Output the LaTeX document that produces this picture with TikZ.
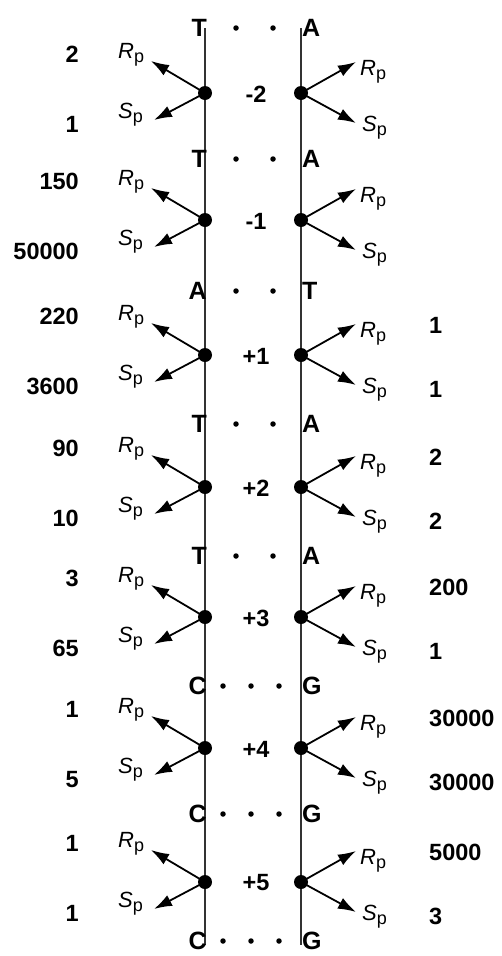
\documentclass[tikz,border=0pt]{standalone}
\usepackage{fontspec}
\setmainfont{Liberation Sans}
\usetikzlibrary{arrows.meta, positioning}

\newcommand{\rateR}{\textit{R}\raisebox{-4.5pt}{\fontsize{18}{18}\selectfont p}}
\newcommand{\rateS}{\textit{S}\raisebox{-4.5pt}{\fontsize{18}{18}\selectfont p}}

\begin{document}
\begin{tikzpicture}[x=1pt, y=-1pt,
    strand/.style={line width=1.5pt, black!80},
    site/.style={circle, fill, inner sep=0, minimum size=14pt},
    hbond/.style={circle, fill, inner sep=0, minimum size=5.5pt},
    nt/.style={inner sep=0, font=\fontsize{25}{25}\selectfont\bfseries},
    num/.style={inner sep=0, font=\fontsize{23.5}{23.5}\selectfont\bfseries},
    rate/.style={inner sep=0, font=\fontsize{22}{22}\selectfont},
    arr/.style={-{Latex[length=18pt, width=12pt]}, line width=1.8pt}
  ]
    \useasboundingbox (0,0) rectangle (502,956);

    % strands
    \coordinate (topL) at (205,28);
    \coordinate (botL) at (205,945);
    \coordinate (topR) at (301,28);
    \coordinate (botR) at (301,945);
    \draw[strand] (topL) -- (botL);
    \draw[strand] (topR) -- (botR);

    % base pairs
    \foreach \y/\a/\b/\xs [count=\i] in {27/T/A/{236,273}, 158/T/A/{236,273}, 290/A/T/{236,273},
        423/T/A/{236,273}, 555/T/A/{236,273}, 685/C/G/{223,251,279}, 813/C/G/{223,251,279},
        940/C/G/{223,251,279}} {
      \node[nt, anchor=base east] (bl\i) at (207,\y+9) {\a};
      \node[nt, anchor=base west] (br\i) at (302,\y+9) {\b};
      \foreach \x in \xs
        \node[hbond] at (\x,\y+1) {};
    }

    % sites with rates
    \foreach \y/\p/\la/\lb/\ra/\rb [count=\k] in {93/-2/2/1/{}/{}, 220/-1/150/50000/{}/{},
        355/+1/220/3600/1/1, 487/+2/90/10/2/2, 617/+3/3/65/200/1,
        748/+4/1/5/30000/30000, 882/+5/1/1/5000/3} {
      \node[site] (sl\k) at (205,\y) {};
      \node[site] (sr\k) at (301,\y) {};
      \node[num] (pos\k) at (256,\y+1) {\p};

      \coordinate (slR\k) at (151,\y-32);
      \coordinate (slS\k) at (154,\y+27);
      \coordinate (srR\k) at (356,\y-31);
      \coordinate (srS\k) at (356,\y+30);
      \draw[arr] (sl\k.center) -- (slR\k);
      \draw[arr] (sl\k.center) -- (slS\k);
      \draw[arr] (sr\k.center) -- (srR\k);
      \draw[arr] (sr\k.center) -- (srS\k);

      \node[rate, anchor=base west] (lR\k) at (118,\y-35) {\rateR};
      \node[rate, anchor=base west] (lS\k) at (118,\y+25) {\rateS};
      \node[rate, anchor=base west] (rR\k) at (360,\y-18) {\rateR};
      \node[rate, anchor=base west] (rS\k) at (362,\y+38) {\rateS};

      % rate values
      \node[num, anchor=base east] (lRv\k) at (79,\y-31) {\la};
      \node[num, anchor=base east] (lSv\k) at (79,\y+39) {\lb};
      \node[num, anchor=base west] (rRv\k) at (429,\y-22) {\ra};
      \node[num, anchor=base west] (rSv\k) at (429,\y+42) {\rb};
    }
  \end{tikzpicture}
\end{document}
